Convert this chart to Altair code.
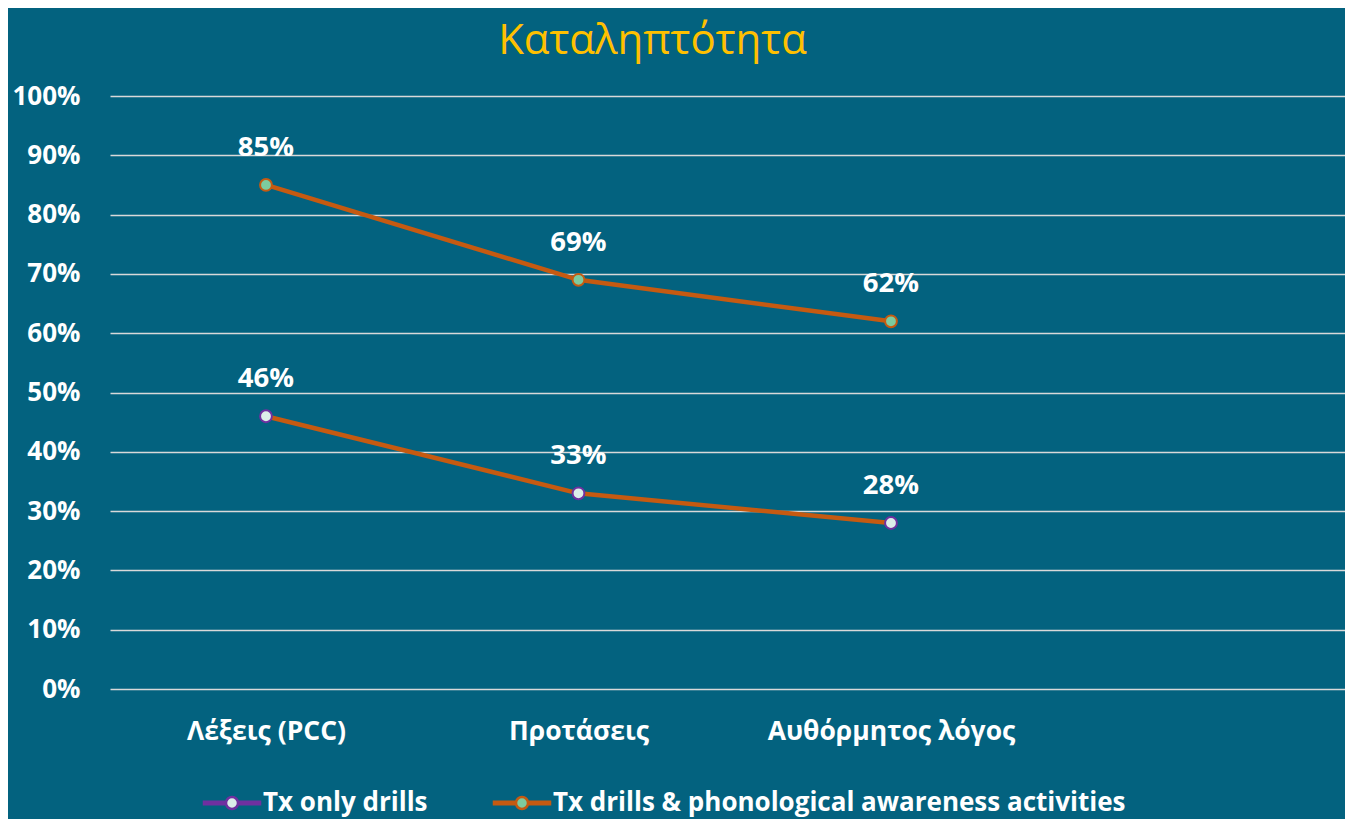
import altair as alt
import pandas as pd

categories = ["Λέξεις (PCC)", "Προτάσεις", "Αυθόρμητος λόγος"]
series_names = ["Tx only drills", "Tx drills & phonological awareness activities"]
only_drills = [0.46, 0.33, 0.28]
drills_phon = [0.85, 0.69, 0.62]
y_ticks = [0.0, 0.1, 0.2, 0.3, 0.4, 0.5, 0.6, 0.7, 0.8, 0.9, 1.0]

rows = []
for s, vals in zip(series_names, [only_drills, drills_phon]):
    for c, v in zip(categories, vals):
        rows.append({"cat": c, "series": s, "value": v})
df = pd.DataFrame(rows)

BG = "#03627F"
ORANGE = "#C55A11"
PURPLE = "#7030A0"
GREEN = "#7DCB9E"
LIGHT = "#DCEEE9"
GRID = "#D9D9D9"
FONT = "Open Sans"

x = alt.X(
    "cat:N",
    sort=categories,
    scale=alt.Scale(type="point", domain=categories, padding=0.976, align=0.2557),
    axis=alt.Axis(title=None, labelAngle=0, ticks=False, domain=False, grid=False,
                  labelFont=FONT, labelFontWeight="bold", labelFontSize=26.5,
                  labelColor="white", labelPadding=29, labelLimit=600),
)
y = alt.Y(
    "value:Q",
    scale=alt.Scale(domain=[0, 1]),
    axis=alt.Axis(values=y_ticks, format=".0%", title=None, ticks=False, domain=False,
                  grid=True, gridColor=GRID, gridWidth=1.5,
                  labelFont=FONT, labelFontWeight="bold", labelFontSize=26,
                  labelColor="white", labelPadding=30),
)

sym_path = ("M-4.667,-0.2083L-1,-0.2083L-1,0.2083L-4.667,0.2083Z "
            "M1,-0.2083L4.667,-0.2083L4.667,0.2083L1,0.2083Z "
            "M1,0A1,1 0 1,1 -1,0A1,1 0 1,1 1,0Z")

legend = alt.Legend(
    title=None, orient="none", legendX=109, legendY=694, direction="horizontal",
    columns=2, symbolType=sym_path, symbolSize=144, symbolStrokeWidth=2.5,
    symbolOpacity=1, labelFont=FONT, labelFontSize=26, labelFontWeight="bold",
    labelColor="white", labelOffset=18, columnPadding=60, labelLimit=800,
)

base = alt.Chart(df)

lines = base.mark_line(color=ORANGE, strokeWidth=4.5).encode(x=x, y=y, detail="series:N")

points = base.mark_point(shape="circle", filled=True, opacity=1, size=140, strokeWidth=2).encode(
    x=x, y=y,
    fill=alt.Fill("series:N", scale=alt.Scale(domain=series_names, range=[LIGHT, GREEN]), legend=legend),
    stroke=alt.Stroke("series:N", scale=alt.Scale(domain=series_names, range=[PURPLE, ORANGE]), legend=legend),
)

labels = base.mark_text(dy=-37, font=FONT, fontSize=27.5, fontWeight="bold", color="white").encode(
    x=x, y=y, text=alt.Text("value:Q", format=".0%")
)

chart = alt.layer(lines, points, labels).properties(
    width=1235, height=593,
    padding={"left": 102, "top": 88, "right": 0, "bottom": 130},
    autosize=alt.AutoSizeParams(type="none"),
    title=alt.TitleParams("Καταληπτότητα", font=FONT, fontSize=42, fontWeight="normal",
                          color="#FFC000", anchor="middle", frame="group", dx=-75, offset=20),
).configure(background=BG).configure_view(stroke=None)

chart.save("out.html", embed_options={"renderer": "svg", "actions": False})
